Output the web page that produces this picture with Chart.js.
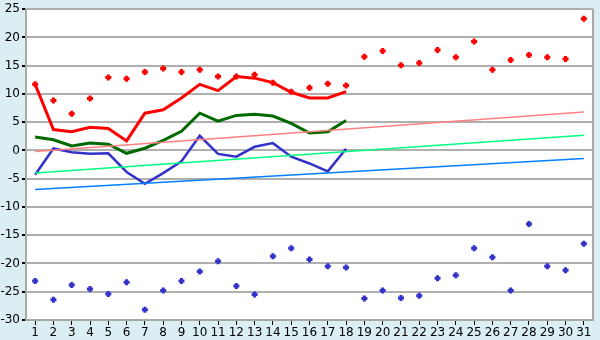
<!DOCTYPE html>
<html>
<head>
<meta charset="utf-8">
<script src="https://cdn.jsdelivr.net/npm/chart.js@4/dist/chart.umd.min.js"></script>
<style>
html,body{margin:0;padding:0;background:#daeef4;}
#wrap{width:600px;height:340px;position:relative;}
</style>
</head>
<body>
<div id="wrap"><canvas id="c" width="600" height="340"></canvas></div>
<script>
const days = ['1','2','3','4','5','6','7','8','9','10','11','12','13','14','15','16','17','18','19','20','21','22','23','24','25','26','27','28','29','30','31'];
const yTicks = [-30,-25,-20,-15,-10,-5,0,5,10,15,20,25];

const maxPoints = [11.7,8.85,6.5,9.2,12.9,12.7,13.9,14.5,13.9,14.3,13.1,13.1,13.4,12.0,10.4,11.1,11.8,11.5,16.6,17.6,15.1,15.5,17.8,16.5,19.3,14.3,16.0,16.9,16.5,16.2,23.3];
const minPoints = [-23.1,-26.4,-23.8,-24.5,-25.4,-23.3,-28.2,-24.8,-23.1,-21.4,-19.6,-24.0,-25.5,-18.7,-17.3,-19.3,-20.5,-20.7,-26.2,-24.8,-26.1,-25.7,-22.6,-22.1,-17.3,-18.9,-24.8,-13.0,-20.5,-21.2,-16.5];

const maxLine = [11.7,3.7,3.3,4.1,3.9,1.7,6.6,7.2,9.3,11.7,10.6,13.1,12.8,12.0,10.3,9.3,9.3,10.4];
const meanLine = [2.4,1.9,0.8,1.3,1.1,-0.5,0.4,1.8,3.4,6.6,5.2,6.2,6.4,6.1,4.8,3.1,3.3,5.3];
const minLine = [-4.3,0.35,-0.3,-0.6,-0.5,-3.8,-5.9,-4.0,-1.9,2.6,-0.6,-1.1,0.65,1.3,-1.1,-2.3,-3.7,0.3];

const maxTrendEnds = [-0.2, 6.8];
const meanTrendEnds = [-4.0, 2.7];
const minTrendEnds = [-6.9, -1.4];

function trend(ends){ return [{x:days[0],y:ends[0]},{x:days[days.length-1],y:ends[1]}]; }

const bgPlugin = {
  id:'bg',
  beforeDraw(chart){
    const ctx = chart.ctx, a = chart.chartArea;
    ctx.save();
    ctx.fillStyle = '#daeef4';
    ctx.fillRect(0,0,chart.width,chart.height);
    ctx.fillStyle = '#ffffff';
    ctx.fillRect(a.left,a.top,a.right-a.left,a.bottom-a.top);
    ctx.restore();
  },
  afterDatasetsDraw(chart){
    const ctx = chart.ctx, a = chart.chartArea;
    ctx.save();
    ctx.strokeStyle = '#a8a8a8';
    ctx.lineWidth = 2;
    ctx.beginPath();
    ctx.moveTo(a.right, a.top); ctx.lineTo(a.right, a.bottom);
    ctx.stroke();
    ctx.restore();
  }
};

new Chart(document.getElementById('c'), {
  type:'line',
  data:{
    labels: days,
    datasets:[
      {data: trend(maxTrendEnds), borderColor:'#ff8080', borderWidth:1.5, pointRadius:0, fill:false},
      {data: trend(meanTrendEnds), borderColor:'#00ff80', borderWidth:1.5, pointRadius:0, fill:false},
      {data: trend(minTrendEnds), borderColor:'#0080ff', borderWidth:1.5, pointRadius:0, fill:false},
      {data: maxLine, borderColor:'#ff0000', borderWidth:3, pointRadius:0, fill:false},
      {data: meanLine, borderColor:'#006a00', borderWidth:3, pointRadius:0, fill:false},
      {data: minLine, borderColor:'#3333cc', borderWidth:2.5, pointRadius:0, fill:false},
      {data: maxPoints, showLine:false, pointStyle:'cross', pointRadius:3, pointBorderWidth:3, pointBorderColor:'#ff0000', pointBackgroundColor:'#ff0000', borderColor:'#ff0000'},
      {data: minPoints, showLine:false, pointStyle:'cross', pointRadius:3, pointBorderWidth:3, pointBorderColor:'#3333cc', pointBackgroundColor:'#3333cc', borderColor:'#3333cc'}
    ]
  },
  options:{
    responsive:false,
    animation:false,
    events:[],
    layout:{padding:{left:0,right:5,top:5,bottom:0}},
    elements:{line:{tension:0}},
    plugins:{legend:{display:false},tooltip:{enabled:false}},
    scales:{
      x:{
        type:'category',
        offset:true,
        grid:{offset:false, drawOnChartArea:false, drawTicks:true, tickLength:5, tickColor:'#000000'},
        border:{color:'#a8a8a8', width:2},
        ticks:{color:'#000000', font:{family:'DejaVu Sans', size:12}, padding:1, maxRotation:0, autoSkip:false},
        afterFit(s){ s.height = 20; }
      },
      y:{
        min:-30, max:25,
        afterBuildTicks(s){ s.ticks = yTicks.map(v=>({value:v})); },
        grid:{color:'#b0b0b0', lineWidth:2, drawTicks:true, tickLength:4, tickColor:'#000000'},
        border:{color:'#a8a8a8', width:2},
        ticks:{color:'#000000', font:{family:'DejaVu Sans', size:12}, padding:2},
        afterFit(s){ s.width = 26; }
      }
    }
  },
  plugins:[bgPlugin]
});
</script>
</body>
</html>
